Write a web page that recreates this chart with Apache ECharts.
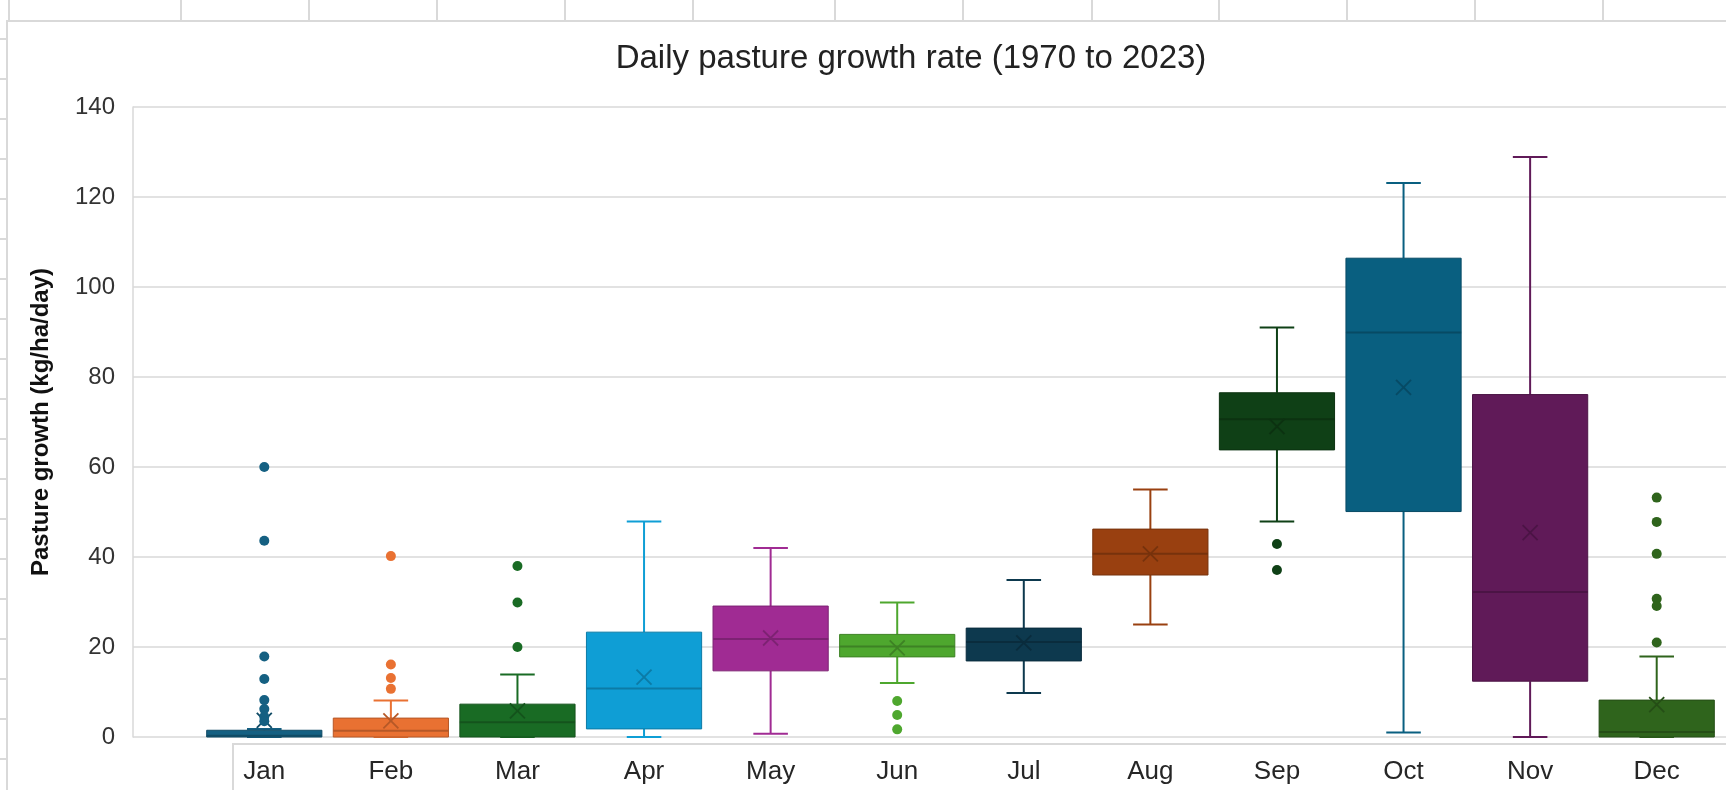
<!DOCTYPE html>
<html>
<head>
<meta charset="utf-8">
<script src="https://cdn.jsdelivr.net/npm/echarts@6/dist/echarts.min.js"></script>
<style>
  html, body { margin: 0; padding: 0; background: #ffffff; }
  #chart { width: 1726px; height: 790px; }
</style>
</head>
<body>
<div id="chart"></div>
<script>
// ---- Data ----
const months = ['Jan', 'Feb', 'Mar', 'Apr', 'May', 'Jun', 'Jul', 'Aug', 'Sep', 'Oct', 'Nov', 'Dec'];
const whiskerLow  = [0,   0,   0,   0,    0.7,  12,   9.8,  25,   47.9, 1.0,   0,     0];
const q1          = [0,   0,   0,   1.8,  14.7, 17.8, 16.9, 36.0, 63.8, 50.1,  12.4,  0];
const median      = [0.3, 1.4, 3.3, 10.8, 21.8, 20.1, 21.1, 40.7, 70.6, 89.9,  32.2,  1.1];
const q3          = [1.5, 4.2, 7.3, 23.3, 29.1, 22.8, 24.2, 46.2, 76.5, 106.4, 76.1,  8.2];
const whiskerHigh = [1.8, 8.1, 13.9, 47.9, 42.0, 29.9, 34.9, 55.0, 91.0, 123.1, 128.9, 17.9];
const mean        = [3.7, 3.6, 5.8, 13.3, 22.0, 19.8, 20.9, 40.7, 69.0, 77.7,  45.4,  7.2];
const outliers = [
  [60, 43.6, 17.9, 12.9, 8.2, 6.2, 4.5, 3.5], // Jan
  [40.2, 16.1, 13.1, 10.7],                   // Feb
  [38.0, 29.9, 20.0],                         // Mar
  [],                                         // Apr
  [],                                         // May
  [8.0, 4.9, 1.7],                            // Jun
  [],                                         // Jul
  [],                                         // Aug
  [42.9, 37.1],                               // Sep
  [],                                         // Oct
  [],                                         // Nov
  [53.2, 47.8, 40.7, 30.7, 29.1, 21.0]        // Dec
];
const yTicks = { min: 0, max: 140, interval: 20 };

// ---- Styles ----
const colors = ['#156082', '#E97132', '#196B24', '#0F9ED5', '#A02B93', '#4EA72E',
                '#0D394E', '#994010', '#0F4016', '#095F80', '#601A58', '#2F641C'];
function shade(hex, f) {
  const n = parseInt(hex.slice(1), 16);
  const r = Math.round(((n >> 16) & 255) * f), g = Math.round(((n >> 8) & 255) * f), b = Math.round((n & 255) * f);
  return 'rgb(' + r + ',' + g + ',' + b + ')';
}
const darker = colors.map(c => shade(c, 0.78));

const boxData = months.map((m, i) => [i, whiskerLow[i], q1[i], median[i], q3[i], whiskerHigh[i], mean[i]]);
const outlierData = [];
outliers.forEach((arr, i) => arr.forEach(v => outlierData.push({ value: [i, v], itemStyle: { color: colors[i], opacity: 1 } })));

// ---- Decorative spreadsheet frame ----
const frameColor = '#d9d9d9';
const decor = [];
[9, 181, 309, 437, 565, 693, 835, 963, 1092, 1219, 1347, 1475, 1603].forEach(x => {
  decor.push({ type: 'line', shape: { x1: x, y1: 0, x2: x, y2: 21 }, style: { stroke: frameColor, lineWidth: 2 }, silent: true });
});
for (let k = 0; k < 19; k++) {
  const y = Math.round(38.5 + 40.05 * k);
  decor.push({ type: 'line', shape: { x1: 0, y1: y, x2: 7, y2: y }, style: { stroke: frameColor, lineWidth: 2 }, silent: true });
}
decor.push({ type: 'polyline', shape: { points: [[7, 790], [7, 21], [1726, 21]] }, style: { stroke: frameColor, lineWidth: 2, fill: null }, silent: true });
decor.push({ type: 'polyline', shape: { points: [[233, 790], [233, 744], [1726, 744]] }, style: { stroke: frameColor, lineWidth: 2, fill: null }, silent: true });
decor.push({
  type: 'text', x: 911, y: 59, silent: true,
  style: { text: 'Daily pasture growth rate (1970 to 2023)', fontFamily: 'Liberation Sans', fontSize: 33,
           fill: '#222222', align: 'center', verticalAlign: 'middle' }
});

const chart = echarts.init(document.getElementById('chart'), null, { renderer: 'canvas' });
chart.setOption({
  animation: false,
  backgroundColor: '#ffffff',
  graphic: decor,
  grid: [
    { left: 133, right: 0, top: 107, bottom: 53 },
    { left: 201, right: 6, top: 107, bottom: 53 }
  ],
  xAxis: [
    { gridIndex: 0, type: 'value', min: 0, max: 1, show: false },
    {
      gridIndex: 1, type: 'category', data: months, boundaryGap: true,
      axisLine: { show: false }, axisTick: { show: false }, splitLine: { show: false },
      axisLabel: { margin: 22, fontSize: 26, fontFamily: 'Liberation Sans', color: '#262626' }
    }
  ],
  yAxis: [
    {
      gridIndex: 0, type: 'value', min: yTicks.min, max: yTicks.max, interval: yTicks.interval,
      axisLine: { show: true, lineStyle: { color: '#d9d9d9', width: 1.5 } },
      axisTick: { show: false },
      splitLine: { show: true, lineStyle: { color: '#d9d9d9', width: 1.5 } },
      axisLabel: { margin: 18, fontSize: 24, fontFamily: 'Liberation Sans', color: '#333333' },
      name: 'Pasture growth (kg/ha/day)', nameLocation: 'middle', nameGap: 80, nameRotate: 90,
      nameTextStyle: { fontSize: 24, fontWeight: 'bold', fontFamily: 'Liberation Sans', color: '#111111' }
    },
    { gridIndex: 1, type: 'value', min: yTicks.min, max: yTicks.max, interval: yTicks.interval, show: false }
  ],
  series: [
    {
      type: 'custom', xAxisIndex: 1, yAxisIndex: 1, data: boxData,
      encode: { x: 0, y: [1, 2, 3, 4, 5, 6] },
      renderItem: function (params, api) {
        const i = api.value(0);
        const lo = api.coord([i, api.value(1)]);
        const b1 = api.coord([i, api.value(2)]);
        const md = api.coord([i, api.value(3)]);
        const b3 = api.coord([i, api.value(4)]);
        const hi = api.coord([i, api.value(5)]);
        const mn = api.coord([i, api.value(6)]);
        const band = api.size([1, 0])[0];
        const bw = band * 0.91;
        const cap = bw * 0.3;
        const x = lo[0];
        const c = colors[i], d = darker[i];
        const s = 7.5;
        const ls = { stroke: c, lineWidth: 2 };
        return {
          type: 'group',
          children: [
            { type: 'line', shape: { x1: x, y1: b3[1], x2: x, y2: hi[1] }, style: ls },
            { type: 'line', shape: { x1: x, y1: b1[1], x2: x, y2: lo[1] }, style: ls },
            { type: 'line', shape: { x1: x - cap / 2, y1: hi[1], x2: x + cap / 2, y2: hi[1] }, style: ls },
            { type: 'line', shape: { x1: x - cap / 2, y1: lo[1], x2: x + cap / 2, y2: lo[1] }, style: ls },
            { type: 'rect', shape: { x: x - bw / 2, y: b3[1], width: bw, height: b1[1] - b3[1] },
              style: { fill: c, stroke: d, lineWidth: 1 } },
            { type: 'line', shape: { x1: x - bw / 2, y1: md[1], x2: x + bw / 2, y2: md[1] }, style: { stroke: d, lineWidth: 2 } },
            { type: 'line', shape: { x1: mn[0] - s, y1: mn[1] - s, x2: mn[0] + s, y2: mn[1] + s }, style: { stroke: d, lineWidth: 1.8 } },
            { type: 'line', shape: { x1: mn[0] - s, y1: mn[1] + s, x2: mn[0] + s, y2: mn[1] - s }, style: { stroke: d, lineWidth: 1.8 } }
          ]
        };
      }
    },
    {
      type: 'scatter', xAxisIndex: 1, yAxisIndex: 1, data: outlierData,
      symbol: 'circle', symbolSize: 10, z: 3, itemStyle: { opacity: 1 }
    }
  ]
});
</script>
</body>
</html>
